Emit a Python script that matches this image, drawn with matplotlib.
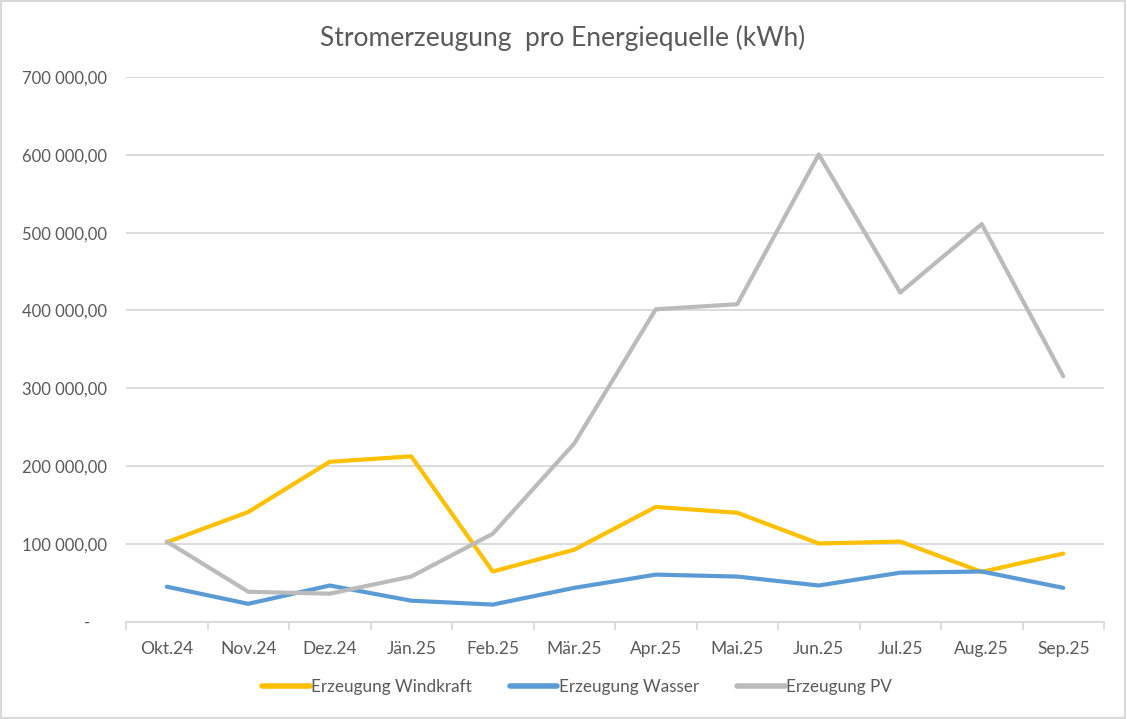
import matplotlib
matplotlib.use("Agg")
import matplotlib.pyplot as plt
from matplotlib.ticker import FuncFormatter, MultipleLocator
from matplotlib.patches import Rectangle

months = ["Okt.24", "Nov.24", "Dez.24", "Jän.25", "Feb.25", "Mär.25",
          "Apr.25", "Mai.25", "Jun.25", "Jul.25", "Aug.25", "Sep.25"]

windkraft = [102000, 141000, 205500, 212500, 64500, 92500,
             147500, 140000, 100500, 103000, 64000, 87500]
wasser = [45000, 23000, 46500, 27000, 22000, 43500,
          60500, 58000, 46500, 63000, 64500, 43500]
pv = [103000, 38500, 36000, 58000, 113000, 229000,
      401500, 408000, 600500, 423000, 511000, 315500]

text_col = "#595959"
plt.rcParams['font.family'] = ['Lato', 'DejaVu Sans']

fig = plt.figure(figsize=(11.27, 7.19), dpi=100)
ax = fig.add_axes([126 / 1127, 1 - 621.7 / 719, (1104 - 126) / 1127, (621.7 - 77) / 719])

x = range(len(months))
ax.plot(x, windkraft, color="#FFC000", lw=3, label="Erzeugung Windkraft", solid_capstyle="round", solid_joinstyle="round")
ax.plot(x, wasser, color="#5B9BD5", lw=3, label="Erzeugung Wasser", solid_capstyle="round", solid_joinstyle="round")
ax.plot(x, pv, color="#BBBBBB", lw=3, label="Erzeugung PV", solid_capstyle="round", solid_joinstyle="round")

ax.set_xlim(-0.5, len(months) - 0.5)
ax.set_ylim(0, 700000)
ax.yaxis.set_major_locator(MultipleLocator(100000))


def fmt(v, pos):
    if v == 0:
        return "-    "
    s = f"{v:,.2f}".replace(",", " ").replace(".", ",")
    return s


ax.yaxis.set_major_formatter(FuncFormatter(fmt))
ax.grid(axis="y", color="#D9D9D9", lw=1.3)
ax.set_axisbelow(True)
for s in ["top", "right", "left"]:
    ax.spines[s].set_visible(False)
ax.spines["bottom"].set_color("#D9D9D9")
ax.spines["bottom"].set_linewidth(1.3)

ax.set_xticks(x)
ax.set_xticklabels(months)
ax.set_xticks([i - 0.5 for i in range(len(months) + 1)], minor=True)
ax.tick_params(axis="x", which="major", length=0, pad=14, labelsize=12.5, colors=text_col)
ax.tick_params(axis="x", which="minor", length=6, color="#D9D9D9", width=1.3)
ax.tick_params(axis="y", length=0, pad=13.5, labelsize=12, colors=text_col)

fig.text(563 / 1127, 1 - 38 / 719, "Stromerzeugung  pro Energiequelle (kWh)",
         ha="center", va="center", fontsize=19, color=text_col)

leg = fig.legend(loc="center", bbox_to_anchor=(577 / 1127, 1 - 687 / 719), ncol=3,
                 frameon=False, fontsize=12.3, handlelength=2.8, handletextpad=0.1,
                 columnspacing=2.2, labelcolor=text_col)
for h in leg.get_lines():
    h.set_linewidth(4)

fig.patches.append(Rectangle((0.001, 0.001), 0.997, 0.997, transform=fig.transFigure,
                             fill=False, edgecolor="#D9D9D9", lw=1.5))

fig.savefig("out.png", dpi=100)
